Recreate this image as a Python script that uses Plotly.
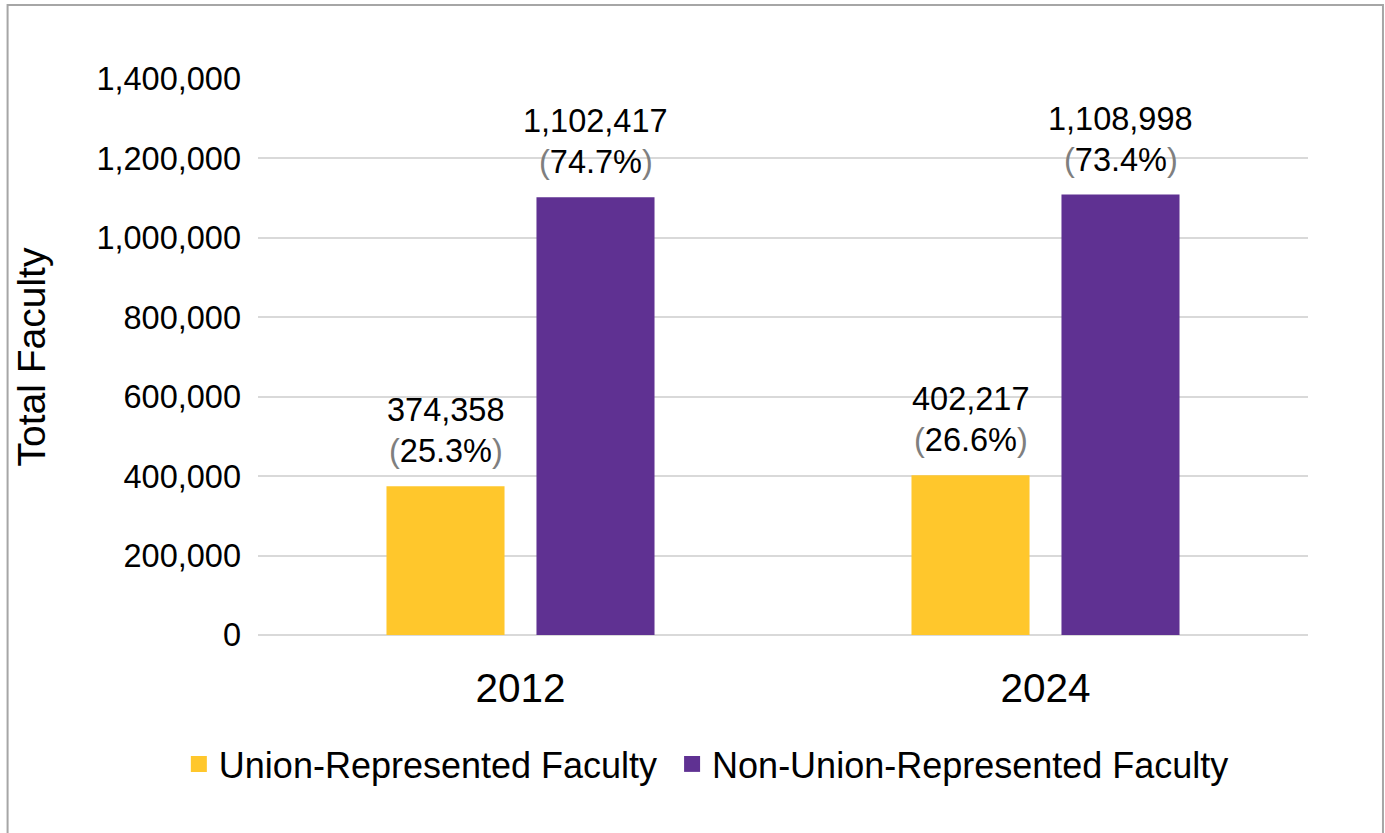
import plotly.graph_objects as go

# data
years = ["2012", "2024"]
union = [374358, 402217]
non_union = [1102417, 1108998]
union_pct = ["25.3%", "26.6%"]
non_union_pct = ["74.7%", "73.4%"]

series_names = ["Union-Represented Faculty\u00a0", "Non-Union-Represented Faculty"]
colors = ["#FFC72C", "#5F3192"]
y_ticks = [0, 200000, 400000, 600000, 800000, 1000000, 1200000, 1400000]

FONT = "Liberation Sans, Arial, sans-serif"
PAREN = "#7F7F7F"

fig = go.Figure()

for name, vals, color in zip(series_names, [union, non_union], colors):
    fig.add_trace(go.Bar(
        x=years,
        y=vals,
        name=name,
        marker=dict(color=color, line=dict(width=0)),
        showlegend=False,
    ))
    # legend-only marker so the swatch can be a bit bigger
    fig.add_trace(go.Scatter(
        x=years, y=[None] * len(years),
        mode="markers",
        name=name,
        marker=dict(symbol="square", size=16, color=color),
    ))


def paren(pct):
    return (f'<span style="color:{PAREN}">(</span>{pct}'
            f'<span style="color:{PAREN}">)</span>')


# data labels: count on top line, share below it
# (category index for x, otherwise "2012" is read as a number)
for vals, pcts, shift in [(union, union_pct, -75), (non_union, non_union_pct, 75)]:
    for i, (v, p) in enumerate(zip(vals, pcts)):
        fig.add_annotation(
            x=i, y=v, xshift=shift, yshift=76,
            text=f"{v:,}", showarrow=False, yanchor="middle",
            font=dict(size=32.5, color="black", family=FONT),
        )
        fig.add_annotation(
            x=i, y=v, xshift=shift, yshift=35,
            text=paren(p), showarrow=False, yanchor="middle",
            font=dict(size=32.5, color="black", family=FONT),
        )

# outer frame
fig.add_shape(
    type="rect", xref="paper", yref="paper",
    x0=-0.2385, x1=1.0714, y0=-0.38, y1=1.133,
    line=dict(color="#A6A6A6", width=2), layer="below",
)

fig.update_layout(
    width=1385,
    height=833,
    paper_bgcolor="white",
    plot_bgcolor="white",
    font=dict(family=FONT, color="black"),
    barmode="group",
    bargap=0.4286,
    bargroupgap=0.213,
    margin=dict(l=258, r=77, t=79, b=198),
    xaxis=dict(
        type="category",
        categoryarray=years,
        range=[-0.5, 1.5],
        showgrid=False,
        showline=False,
        ticks="",
        tickfont=dict(size=40.5),
        ticklabelstandoff=25,
        automargin=False,
    ),
    yaxis=dict(
        range=[0, 1400000],
        tickvals=y_ticks,
        tickformat=",d",
        showgrid=True,
        gridcolor="#D9D9D9",
        gridwidth=2,
        zeroline=True,
        zerolinecolor="#D9D9D9",
        zerolinewidth=2,
        showline=False,
        ticks="",
        tickfont=dict(size=32.5),
        ticklabelstandoff=16,
        automargin=False,
        title=dict(text="Total Faculty", font=dict(size=39), standoff=38),
    ),
    legend=dict(
        orientation="h",
        x=0.427, xanchor="center",
        y=-0.232, yanchor="middle",
        font=dict(size=36),
        itemsizing="trace",
        itemwidth=30,
        tracegroupgap=0,
    ),
)

# drop the page's default body margin so the figure sits at the corner
fig.write_html(
    "out.html",
    config={"displayModeBar": False},
    post_script="document.body.style.margin='0';",
)
